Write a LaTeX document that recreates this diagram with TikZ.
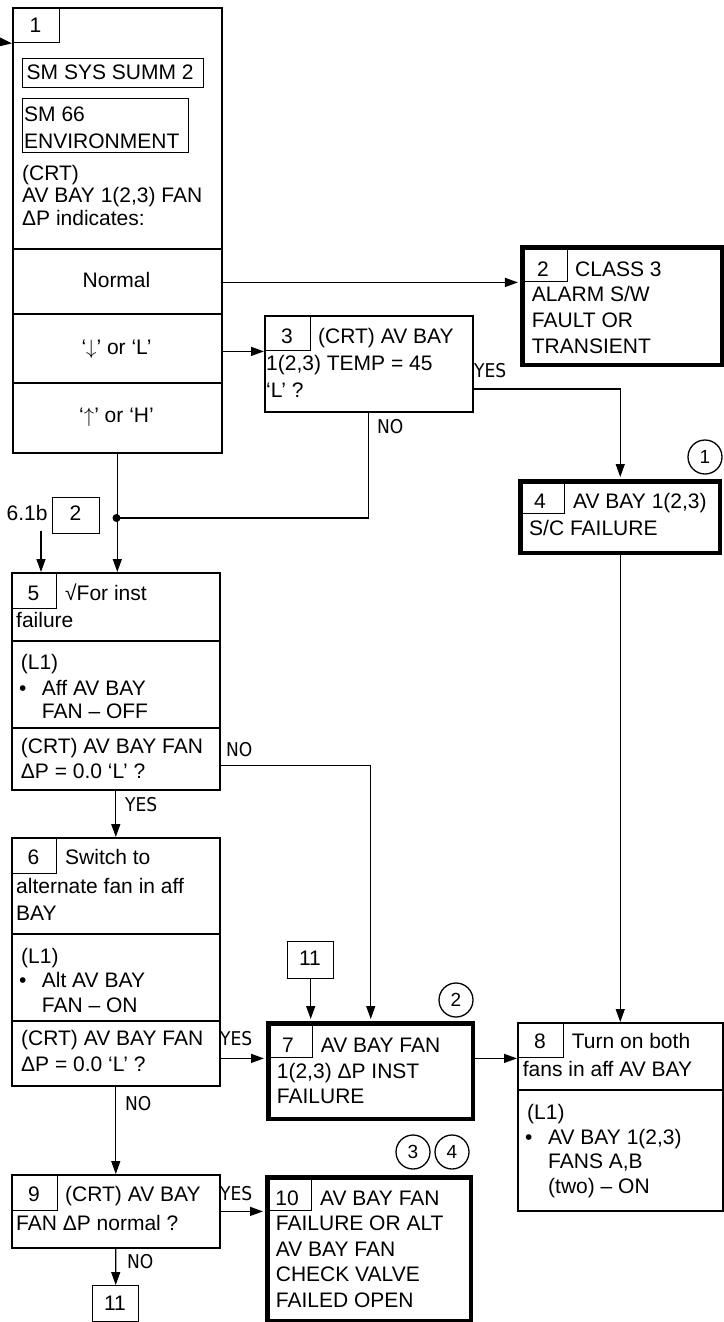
\documentclass[tikz,border=0pt]{standalone}
\usepackage{fontspec}
\setmainfont{Liberation Sans}
\newfontfamily\ynfont{DejaVu Sans}[FakeStretch=0.9]
\usetikzlibrary{arrows.meta}
\newcommand\firstl{\rule{0pt}{18pt}}
\begin{document}
\begin{tikzpicture}[x=1pt,y=-1pt,
  frame/.style={draw, line width=1.6pt, inner sep=0pt, anchor=north west},
  heavy/.style={draw, line width=4.5pt, inner sep=0pt, anchor=north west},
  tab/.style={draw, line width=1.4pt, inner sep=0pt, anchor=north west},
  txt/.style={inner sep=0pt, anchor=north west, align=left, font=\fontsize{21}{#1}\selectfont},
  txt/.default=25,
  one/.style={inner sep=0pt, anchor=base west, font=\fontsize{21}{25}\selectfont},
  num/.style={inner sep=0pt, anchor=base, font=\fontsize{21}{25}\selectfont},
  yn/.style={inner sep=0pt, anchor=base west, font=\ynfont\fontsize{19}{22}\selectfont},
  arr/.style={line width=1.3pt, -{Triangle[length=13pt,width=9pt]}},
  con/.style={line width=1.3pt},
  tk/.style={shorten >=2.25pt},
  circ/.style={draw, circle, line width=1.3pt, minimum size=34pt, inner sep=0pt, font=\fontsize{19}{22}\selectfont},
  jdot/.style={circle, fill, inner sep=0pt, minimum size=8pt}]
\useasboundingbox (0,0) rectangle (723,1322);
\fill[white] (0,0) rectangle (723,1322);

% ---- Box 1
\node[frame, minimum width=209pt, minimum height=241pt] (b1a) at (12,7) {};
\node[frame, minimum width=209pt, minimum height=65pt] (b1b) at (12,248) {};
\node[frame, minimum width=209pt, minimum height=69pt] (b1c) at (12,313) {};
\node[frame, minimum width=209pt, minimum height=70pt] (b1d) at (12,382) {};
\node[tab, minimum width=47pt, minimum height=35pt] (t1) at (12,7) {};
\node[num] (n1) at (35.5,33) {1};
\node[tab, minimum width=181pt, minimum height=29pt] (s1) at (22,58) {};
\node[one] (s1t) at (26.5,80) {SM SYS SUMM 2};
\node[tab, minimum width=166pt, minimum height=54pt] (s2) at (22,98) {};
\node[txt=27] (s2t) at (24,103) {\firstl SM 66\\ENVIRONMENT};
\node[txt=22.5] (x1) at (22,162) {\firstl(CRT)\\AV BAY 1(2,3) FAN\\ΔP indicates:};
\node[num] (x1b) at (116.5,287) {Normal};
\node[num] (x1c) at (116.5,354) {‘$\downarrow$’ or ‘L’};
\node[num] (x1d) at (116.5,422.7) {‘$\uparrow$’ or ‘H’};

% ---- Box 2
\node[heavy, minimum width=199.5pt, minimum height=117.5pt] (b2) at (520.25,245.25) {};
\node[tab, minimum width=46.75pt, minimum height=35.75pt] (t2) at (b2.north west) {};
\node[num] (n2) at (543,276) {2};
\node[one] (x2a) at (575,276) {CLASS 3};
\node[txt=25.7] (x2b) at (531.7,283.7) {\firstl ALARM S/W\\FAULT OR\\TRANSIENT};

% ---- Box 3
\node[frame, minimum width=208pt, minimum height=96pt] (b3) at (264,315) {};
\node[tab, minimum width=46pt, minimum height=35pt] (t3) at (264,315) {};
\node[num] (n3) at (287,343) {3};
\node[one] (x3a) at (318,343) {(CRT) AV BAY};
\node[txt=27.5] (x3b) at (266,352) {\firstl 1(2,3) TEMP = 45\\‘L’ ?};

% ---- Box 4
\node[heavy, minimum width=199.5pt, minimum height=71.5pt] (b4) at (518.25,479.25) {};
\node[tab, minimum width=45.75pt, minimum height=33.75pt] (t4) at (b4.north west) {};
\node[num] (n4) at (540,508) {4};
\node[one] (x4a) at (573,508) {AV BAY 1(2,3)};
\node[one] (x4b) at (529,535) {S/C FAILURE};
\node[circ] (c1) at (705,457) {1};

% ---- off-page 2
\node[tab, minimum width=47pt, minimum height=36pt] (op2) at (52,497) {};
\node[num] (nop2) at (75.5,520) {2};
\node[inner sep=0pt, anchor=base west, font=\fontsize{21}{25}\selectfont] (l61) at (6.5,520) {6.1b};
\node[jdot] (j) at (116.5,518) {};

% ---- Box 5
\node[frame, minimum width=208pt, minimum height=68pt] (b5a) at (11,572) {};
\node[frame, minimum width=208pt, minimum height=87pt] (b5b) at (11,640) {};
\node[frame, minimum width=208pt, minimum height=62pt] (b5c) at (11,727) {};
\node[tab, minimum width=45pt, minimum height=36pt] (t5) at (11,572) {};
\node[num] (n5) at (33.5,600) {5};
\node[one] (x5a) at (65,600) {√For inst};
\node[one] (x5b) at (16,627.7) {failure};
\node[one] (x5c) at (20.7,669) {(L1)};
\node[one] (x5d) at (19,695) {•};
\node[txt=23] (x5e) at (41.7,677) {\firstl Aff AV BAY\\FAN – OFF};
\node[txt=25] (x5f) at (20.7,735) {\firstl(CRT) AV BAY FAN\\ΔP = 0.0 ‘L’ ?};

% ---- Box 6
\node[frame, minimum width=208pt, minimum height=96pt] (b6a) at (11,837) {};
\node[frame, minimum width=208pt, minimum height=87pt] (b6b) at (11,933) {};
\node[frame, minimum width=208pt, minimum height=65pt] (b6c) at (11,1020) {};
\node[tab, minimum width=45pt, minimum height=36pt] (t6) at (11,837) {};
\node[num] (n6) at (33.5,864) {6};
\node[one] (x6a) at (65,864) {Switch to};
\node[txt=27] (x6b) at (16,875) {\firstl alternate fan in aff\\BAY};
\node[one] (x6c) at (21,963) {(L1)};
\node[one] (x6d) at (19,987) {•};
\node[txt=25] (x6e) at (41.7,969) {\firstl Alt AV BAY\\FAN – ON};
\node[txt=26] (x6f) at (21,1027) {\firstl(CRT) AV BAY FAN\\ΔP = 0.0 ‘L’ ?};

% ---- off-page 11 (top)
\node[tab, minimum width=46pt, minimum height=37pt] (o11a) at (287,941) {};
\node[num] (no11a) at (310,965) {11};

% ---- Box 7
\node[heavy, minimum width=204.5pt, minimum height=95.5pt] (b7) at (266.25,1021.25) {};
\node[tab, minimum width=45.75pt, minimum height=35.75pt] (t7) at (b7.north west) {};
\node[num] (n7) at (288,1052) {7};
\node[one] (x7a) at (320.7,1052) {AV BAY FAN};
\node[txt=25] (x7b) at (276.7,1060) {\firstl 1(2,3) ΔP INST\\FAILURE};
\node[circ] (c2) at (456,1000) {2};

% ---- Box 8
\node[frame, minimum width=205pt, minimum height=67pt] (b8a) at (517,1022) {};
\node[frame, minimum width=205pt, minimum height=121pt] (b8b) at (517,1089) {};
\node[tab, minimum width=46pt, minimum height=35pt] (t8) at (517,1022) {};
\node[num] (n8) at (540,1048) {8};
\node[one] (x8a) at (571.7,1048) {Turn on both};
\node[one] (x8b) at (522.7,1076.7) {fans in aff AV BAY};
\node[one] (x8c) at (527,1119) {(L1)};
\node[one] (x8d) at (525,1144) {•};
\node[txt=24.5] (x8e) at (548,1126) {\firstl AV BAY 1(2,3)\\FANS A,B\\(two) – ON};

% ---- Box 9
\node[frame, minimum width=208pt, minimum height=73pt] (b9) at (11,1174) {};
\node[tab, minimum width=46pt, minimum height=36pt] (t9) at (11,1174) {};
\node[num] (n9) at (34,1201.7) {9};
\node[one] (x9a) at (65,1201.7) {(CRT) AV BAY};
\node[one] (x9b) at (16,1230) {FAN ΔP normal ?};

% ---- Box 10
\node[heavy, minimum width=203.5pt, minimum height=143.5pt] (b10) at (265.25,1175.25) {};
\node[tab, minimum width=45.75pt, minimum height=34.75pt] (t10) at (b10.north west) {};
\node[num] (n10) at (287,1205) {10};
\node[one] (x10a) at (320,1205) {AV BAY FAN};
\node[txt=25.8] (x10b) at (275.7,1212) {\firstl FAILURE OR ALT\\AV BAY FAN\\CHECK VALVE\\FAILED OPEN};
\node[circ] (c3) at (413,1152) {3};
\node[circ] (c4) at (452,1152) {4};

% ---- off-page 11 (bottom)
\node[tab, minimum width=46pt, minimum height=36pt] (o11b) at (92,1285) {};
\node[num] (no11b) at (115,1310) {11};

% ---- connectors
\coordinate (in1) at (0,42);
\draw[arr] (in1) -- (t1.south west);
\draw[arr, tk] (b1b.east |- t2.south west) -- ([xshift=-0.01pt]t2.south west);
\draw[arr] (b1c.east |- t3.south west) -- (t3.south west);
\draw[arr, tk] ([yshift=-74pt]b3.north east) -| (b4.north);
\draw[con] (b3.south) |- (j.center);
\draw[arr] (b1d.south) -- (b1d.south |- b5a.north);
\coordinate (c61) at (41,531);
\draw[arr] (c61) -- (c61 |- b5a.north);
\draw[arr, tk] ([yshift=-7pt]b5c.east) -| (b7.north);
\draw[arr] (b5c.south) -- (b6a.north);
\draw[arr, tk] (b6c.east |- t7.south west) -- (t7.south west);
\draw[arr, tk] (o11a.south) -- (o11a.south |- b7.north);
\draw[arr] (b7.east |- t8.south west) -- (t8.south west);
\draw[arr] (b4.south) -- (b4.south |- b8a.north);
\draw[arr] (b6c.south) -- (b9.north);
\draw[arr, tk] (b9.east |- t10.south west) -- (t10.south west);
\draw[arr] (b9.south) -- (o11b.north);

% ---- YES / NO labels
\node[yn] (y3) at (474,377) {YES};
\node[yn] (no3) at (377,433) {NO};
\node[yn] (no5) at (226,756) {NO};
\node[yn] (y5) at (125,811.7) {YES};
\node[yn] (y6) at (220,1045) {YES};
\node[yn] (no6) at (125,1110) {NO};
\node[yn] (y9) at (220,1200) {YES};
\node[yn] (no9) at (127,1268) {NO};
\end{tikzpicture}
\end{document}
